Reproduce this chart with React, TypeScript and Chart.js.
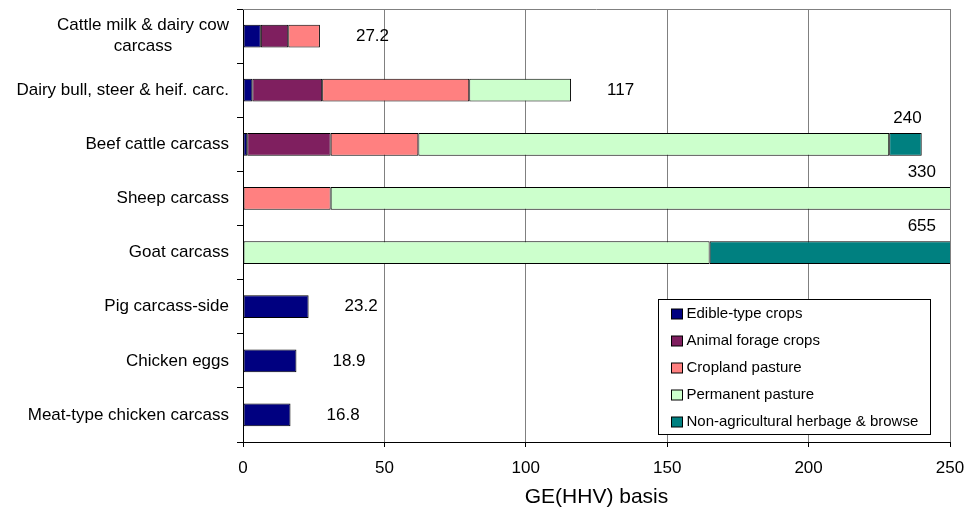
import React, { useEffect, useRef } from "react";
import { Chart, registerables } from "chart.js";

Chart.register(...registerables);

const categories: (string | string[])[] = [
  ["Cattle milk & dairy cow", "carcass"],
  "Dairy bull, steer & heif. carc.",
  "Beef cattle carcass",
  "Sheep carcass",
  "Goat carcass",
  "Pig carcass-side",
  "Chicken eggs",
  "Meat-type chicken carcass",
];

const edibleCrops = [6.3, 3.3, 1.5, null, null, 23.2, 18.9, 16.8];
const animalForage = [9.7, 24.7, 29.5, null, null, null, null, null];
const croplandPasture = [11.2, 52, 31, 31, null, null, null, null];
const permanentPasture = [null, 36, 166.5, 299, 165, null, null, null];
const nonAgricultural = [null, null, 11.5, null, 490, null, null, null];
const totalLabels = ["27.2", "117", "240", "330", "655", "23.2", "18.9", "16.8"];

const xTicksMax = 250;
const xTicksStep = 50;

const FONT = "'Liberation Sans', Arial, sans-serif";

const labelPlugin = {
  id: "totalsAndLegend",
  afterDraw(chart: any) {
    const { ctx, chartArea } = chart;
    const xs = chart.scales.x;
    const ys = chart.scales.y;
    ctx.save();
    // top border of plot area
    ctx.strokeStyle = "#808080";
    ctx.lineWidth = 1;
    ctx.beginPath();
    ctx.moveTo(chartArea.left, Math.round(chartArea.top) + 0.5);
    ctx.lineTo(chartArea.right, Math.round(chartArea.top) + 0.5);
    ctx.stroke();

    // category labels (multi-line centred as a block, block right-aligned)
    ctx.font = `17px ${FONT}`;
    ctx.fillStyle = "#000";
    ctx.textBaseline = "middle";
    ctx.textAlign = "center";
    const rightEdge = chartArea.left - 14;
    const lh = 21;
    categories.forEach((cat, i) => {
      const lines = Array.isArray(cat) ? cat : [cat];
      const blockW = Math.max(...lines.map((l) => ctx.measureText(l).width));
      const cx = rightEdge - blockW / 2;
      const yc = ys.getPixelForValue(i);
      lines.forEach((l, j) => {
        ctx.fillText(l, cx, yc + (j - (lines.length - 1) / 2) * lh);
      });
    });

    // totals
    ctx.font = `17px ${FONT}`;
    ctx.fillStyle = "#000";
    categories.forEach((_, i) => {
      let sum = 0;
      chart.data.datasets.forEach((ds: any) => {
        const v = ds.data[i];
        if (typeof v === "number") sum += v;
      });
      const end = xs.getPixelForValue(Math.min(sum, xTicksMax));
      const yc = ys.getPixelForValue(i);
      const txt = totalLabels[i];
      const w = ctx.measureText(txt).width;
      if (end + 36 + w < chartArea.right - 10) {
        ctx.textAlign = "left";
        ctx.textBaseline = "middle";
        ctx.fillText(txt, end + 36, yc);
      } else {
        ctx.textAlign = "right";
        ctx.textBaseline = "middle";
        ctx.fillText(txt, Math.min(end, chartArea.right - 14), yc - 26);
      }
    });

    // legend
    const boxW = 272;
    const boxH = 135;
    const bx = Math.round(chartArea.right - 20 - boxW) + 0.5;
    const by = Math.round(chartArea.bottom - 8 - boxH) + 0.5;
    ctx.fillStyle = "#fff";
    ctx.fillRect(bx, by, boxW, boxH);
    ctx.strokeStyle = "#000";
    ctx.lineWidth = 1;
    ctx.strokeRect(bx, by, boxW, boxH);
    ctx.font = `15px ${FONT}`;
    ctx.textAlign = "left";
    ctx.textBaseline = "middle";
    chart.data.datasets.forEach((ds: any, k: number) => {
      const cy = by + 14 + k * 27;
      ctx.fillStyle = ds.backgroundColor;
      ctx.fillRect(bx + 13, Math.round(cy - 5), 11, 10);
      ctx.strokeStyle = "#000";
      ctx.strokeRect(bx + 13, Math.round(cy - 5), 11, 10);
      ctx.fillStyle = "#000";
      ctx.fillText(ds.label, bx + 28, cy);
    });
    ctx.restore();
  },
};

export default function App() {
  const ref = useRef<HTMLCanvasElement | null>(null);
  useEffect(() => {
    if (!ref.current) return;
    const mk = (label: string, data: (number | null)[], color: string) => ({
      label,
      data,
      backgroundColor: color,
      borderColor: "#000",
      borderWidth: 1,
      borderSkipped: false,
      barPercentage: 0.42,
      categoryPercentage: 1,
    });
    const chart = new Chart(ref.current, {
      type: "bar",
      data: {
        labels: categories,
        datasets: [
          mk("Edible-type crops", edibleCrops, "#000080"),
          mk("Animal forage crops", animalForage, "#7f1f5f"),
          mk("Cropland pasture", croplandPasture, "#ff8080"),
          mk("Permanent pasture", permanentPasture, "#ccffcc"),
          mk("Non-agricultural herbage & browse", nonAgricultural, "#008080"),
        ],
      },
      options: {
        indexAxis: "y",
        animation: false,
        responsive: true,
        maintainAspectRatio: false,
        layout: { padding: { top: 9, right: 0, left: 0, bottom: 0 } },
        plugins: { legend: { display: false }, tooltip: { enabled: false } },
        scales: {
          x: {
            stacked: true,
            min: 0,
            max: xTicksMax,
            ticks: {
              stepSize: xTicksStep,
              color: "#000",
              font: { family: FONT, size: 17 },
              padding: 11,
              maxRotation: 0,
            },
            grid: {
              color: "#808080",
              tickColor: "#000",
              tickLength: 5,
              drawTicks: true,
            },
            border: { display: true, color: "#000", width: 1 },
            title: {
              display: true,
              text: "GE(HHV) basis",
              color: "#000",
              font: { family: FONT, size: 21 },
              padding: { top: 0, bottom: 1 },
            },
            afterFit(scale: any) {
              scale.height = 69;
              scale.paddingRight = 14;
              scale.paddingLeft = 0;
            },
          },
          y: {
            stacked: true,
            ticks: {
              display: false,
            },
            grid: {
              drawOnChartArea: false,
              drawTicks: true,
              tickLength: 6,
              offset: true,
              tickColor: "#000",
            },
            border: { display: true, color: "#000", width: 1 },
            afterFit(scale: any) {
              scale.width = 243;
            },
          },
        },
      },
      plugins: [labelPlugin],
    } as any);
    return () => chart.destroy();
  }, []);
  return (
    <div style={{ position: "fixed", left: 0, top: 0, width: 964, height: 511, background: "#fff" }}>
      <canvas ref={ref} />
    </div>
  );
}
